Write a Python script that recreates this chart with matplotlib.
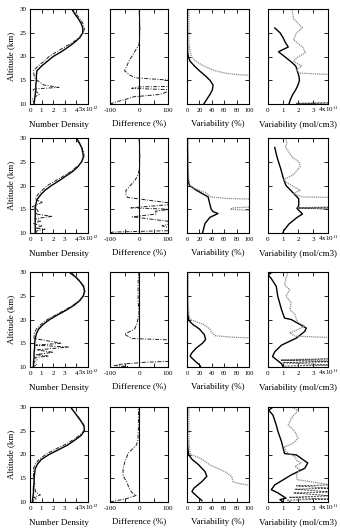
import numpy as np
import matplotlib.pyplot as plt

plt.rcParams['font.family'] = ['Liberation Serif', 'DejaVu Serif']
plt.rcParams['mathtext.fontset'] = 'stix'

# ---- data (altitude in km) ----
alt_1km = [10, 11, 12, 13, 14, 15, 16, 17, 18, 19, 20, 21, 22, 23, 24, 25, 26, 27, 28, 29, 30]

# row 1
r1_dens_solid = [0.35, 0.4, 0.45, 0.5, 0.5, 0.55, 0.55, 0.6, 1.0, 1.5, 2.0, 2.7, 3.3, 3.85, 4.3, 4.55, 4.55, 4.4, 4.15, 3.85, 3.6]
r1_dens_dash_alt = [10, 10.5, 11, 11.5, 12, 12.5, 13, 13.2, 13.5, 14, 15, 15.5, 16, 17, 18, 19, 20, 21, 22, 23, 24, 25, 26, 27, 28, 29, 30]
r1_dens_dash = [0.4, 0.3, 0.2, 0.4, 0.8, 0.6, 0.2, 0.5, 2.5, 1.2, 0.6, 0.4, 0.35, 0.3, 0.7, 1.2, 1.65, 2.3, 3.0, 3.7, 4.25, 4.6, 4.7, 4.55, 4.3, 3.95, 3.65]
r1_diff_alt = [10, 10.5, 11, 11.5, 12, 12.8, 13.0, 13.3, 13.6, 13.7, 15.0, 15.5, 16, 17, 18, 19, 20, 21, 22, 22.5, 24, 26, 28, 30]
r1_diff = [-100, -75, -45, -20, 70, 110, 110, -25, 0, 110, 110, -10, -30, -50, -42, -35, -25, -15, -5, 0, 2, 3, 2, 0]
r1_pct_solid_alt = [10, 11, 12, 13, 14, 15, 16, 17, 18, 19, 20, 21, 22, 23, 24, 25, 26]
r1_pct_solid = [27, 32, 37, 41, 42, 37, 29, 20, 12, 5, 2, 1, 1, 0.5, 0.5, 0.5, 0.5]
r1_pct_gray_alt = [16.0, 16.2, 16.5, 17, 18, 19, 20, 21, 22, 23, 24, 25, 26, 27, 28, 29, 30]
r1_pct_gray = [105, 80, 62, 45, 27, 14, 7, 5, 4, 3, 3, 3, 3, 3, 3, 3, 3]
r1_mol_solid_alt = [10, 11, 12, 13, 14, 15, 16, 17, 18, 19, 20, 21, 22, 23, 24, 25, 26]
r1_mol_solid = [1.4, 1.5, 1.65, 1.85, 2.0, 2.1, 2.05, 1.95, 1.85, 1.5, 1.1, 0.7, 1.35, 1.15, 1.0, 0.8, 0.45]
r1_mol_gray_alt = [16.2, 16.5, 17.2, 18, 19, 19.7, 20.8, 22, 23.5, 25, 26, 27, 28, 29, 30]
r1_mol_gray = [4.2, 2.1, 1.9, 2.25, 1.7, 1.9, 2.5, 2.3, 1.7, 1.9, 2.3, 2.0, 1.7, 1.65, 1.6]
r1_mol_dash_alt = [10.0, 10.15, 10.3]
r1_mol_dash = [4.2, 1.9, 4.2]

# row 2
r2_dens_solid = [0.45, 0.45, 0.45, 0.45, 0.45, 0.45, 0.5, 0.6, 0.9, 1.3, 1.85, 2.5, 3.1, 3.7, 4.15, 4.45, 4.6, 4.55, 4.45, 4.25, 4.0]
r2_dens_dash_alt = [10, 10.5, 10.8, 11, 11.5, 12, 12.5, 13, 13.5, 14, 14.5, 15, 15.5, 16, 16.5, 17, 18, 19, 20, 21, 22, 23, 24, 25, 26, 27, 28, 29, 30]
r2_dens_dash = [0.5, 0.6, 1.3, 0.5, 1.0, 0.3, 0.9, 0.4, 1.9, 0.5, 0.7, 0.6, 0.2, 0.6, 1.1, 0.45, 0.65, 1.05, 1.5, 2.2, 2.9, 3.55, 4.05, 4.45, 4.65, 4.65, 4.45, 4.2, 3.95]
r2_diff_alt = [10, 10.2, 10.5, 11, 11.5, 12, 12.4, 13.4, 14.0, 14.6, 15.0, 15.3, 16.0, 16.3, 17, 17.5, 18.1, 19, 20, 21, 22, 23, 24, 26, 28, 30]
r2_diff = [-100, -90, 110, 110, 80, 110, 110, -23, 60, 57, 110, -28, 110, 110, 20, -40, -45, -45, -30, -15, -5, 0, 2, 3, 2, 0]
r2_pct_solid_alt = [10, 10.5, 12, 13.3, 14.1, 14.5, 15, 16, 17.6, 18.2, 19, 20, 21, 22, 24, 26, 28, 30]
r2_pct_solid = [25, 26, 29, 37, 50, 42, 39, 37, 34, 26, 15, 4, 2, 1.5, 1, 1, 0.5, 0.5]
r2_pct_gray_alt = [14.7, 15.0, 15.3, 15.5, 17.1, 17.3, 17.6, 18, 18.5, 19, 19.5, 20, 21, 22, 24, 26, 28, 30]
r2_pct_gray = [110, 70, 75, 110, 110, 60, 38, 35, 30, 20, 10, 5, 3, 2.5, 2, 2, 2, 2]
r2_mol_solid_alt = [10, 10.5, 11.9, 13.3, 14.0, 15.1, 15.8, 17.2, 18.2, 20.0, 21.2, 23.5, 26, 28]
r2_mol_solid = [1.0, 1.05, 1.4, 1.95, 2.3, 1.95, 2.05, 2.05, 1.75, 1.2, 1.05, 0.85, 0.6, 0.45]
r2_mol_gray_alt = [15.1, 15.3, 15.5, 17.5, 17.6, 18.3, 19.0, 20.5, 21.2, 22.3, 24, 25, 26, 27, 28.1, 29, 30]
r2_mol_gray = [4.2, 2.0, 4.2, 4.2, 2.3, 1.7, 2.15, 1.3, 1.05, 1.7, 2.15, 2.05, 1.6, 1.4, 1.17, 1.25, 1.17]
r2_mol_dash_alt = [15.0, 15.25, 15.4]
r2_mol_dash = [4.2, 1.9, 4.2]

# row 3
r3_dens_solid = [0.3, 0.3, 0.35, 0.35, 0.4, 0.4, 0.45, 0.55, 0.75, 1.15, 1.7, 2.4, 3.15, 3.8, 4.3, 4.6, 4.7, 4.6, 4.3, 3.9, 3.35]
r3_dens_dash_alt = [10, 10.5, 11, 11.5, 12, 12.3, 12.6, 13.1, 13.6, 14.2, 14.5, 14.6, 15, 16, 17, 18, 19, 20, 21, 22, 23, 24, 25, 26, 27, 28, 29, 30]
r3_dens_dash = [0.2, 0.6, 0.3, 0.6, 0.4, 1.6, 0.5, 2.0, 0.6, 3.3, 1.2, 0.5, 2.7, 0.35, 0.35, 0.55, 0.95, 1.5, 2.25, 3.0, 3.7, 4.25, 4.6, 4.75, 4.65, 4.35, 3.95, 3.5]
r3_diff_alt = [10, 10.1, 10.3, 10.6, 11.0, 11.2, 15.7, 16.0, 16.9, 18, 19, 20, 21.4, 23, 24, 26, 28, 30]
r3_diff = [-60, -40, -85, -60, 20, 110, 110, -25, -50, -15, -8, -4, 0, -2, -3, -3, -3, 0]
r3_pct_solid_alt = [10, 10.5, 11, 12, 12.3, 13, 14, 15, 15.8, 16.8, 18, 19, 19.8, 21, 22, 24, 26, 28, 30]
r3_pct_solid = [22, 20, 15, 7, 5, 8, 15, 25, 30, 28, 20, 9, 3, 1.5, 1, 0.5, 0.5, 0.5, 0.5]
r3_pct_gray_alt = [16.1, 16.3, 16.6, 17.4, 18, 19, 20, 21, 22, 24, 26, 28, 30]
r3_pct_gray = [105, 70, 45, 39, 37, 26, 5, 3, 2.5, 2, 2, 2, 2]
r3_mol_solid_alt = [10.1, 10.7, 12.2, 13.2, 14.6, 16.1, 17.5, 18.2, 20.0, 20.3, 22.1, 24.9, 27, 28.7, 29.4, 30]
r3_mol_solid = [1.0, 0.9, 0.3, 0.45, 0.9, 1.9, 2.45, 2.55, 1.55, 1.1, 0.9, 0.65, 0.55, 0.2, 0.0, 0.3]
r3_mol_gray_alt = [11.3, 11.5, 11.8, 16.2, 16.5, 17.2, 17.6, 18.6, 19.4, 20, 21.1, 22.1, 23.5, 24.9, 26.3, 27.3, 28.7, 30]
r3_mol_gray = [4.2, 0.85, 4.2, 4.2, 1.8, 1.45, 1.8, 2.45, 2.0, 1.9, 1.8, 1.45, 1.55, 1.2, 1.45, 1.1, 1.2, 1.35]
r3_mol_dash_alt = [10.2, 10.4, 10.9, 11.1, 11.4, 11.7]
r3_mol_dash = [1.1, 4.2, 1.0, 4.2, 0.9, 4.2]

# row 4
r4_dens_solid = [0.2, 0.25, 0.3, 0.3, 0.35, 0.35, 0.4, 0.45, 0.65, 1.0, 1.65, 2.45, 3.25, 3.85, 4.4, 4.7, 4.65, 4.4, 4.1, 3.8, 3.5]
r4_dens_dash_alt = [10, 10.3, 10.7, 11, 11.5, 12, 13, 14, 15, 16, 17, 18, 19, 20, 21, 22, 23, 24, 25, 26, 27, 28, 29, 30]
r4_dens_dash = [0.3, 0.2, 0.6, 0.3, 0.9, 0.5, 0.4, 0.4, 0.3, 0.3, 0.3, 0.45, 0.8, 1.35, 2.1, 2.95, 3.65, 4.25, 4.65, 4.7, 4.45, 4.15, 3.8, 3.4]
r4_diff_alt = [10, 10.7, 11.4, 12, 12.5, 13.5, 14, 15, 15.6, 16, 17, 18.4, 19, 20.2, 21, 22, 23, 24, 26, 28, 30]
r4_diff = [-100, -43, -9, -25, -30, -38, -40, -50, -55, -55, -55, -49, -45, -38, -25, -9, -4, -3, -2, -2, -2]
r4_pct_solid_alt = [10.3, 11.2, 12.2, 12.9, 14.3, 15.4, 16.4, 17.8, 19, 19.9, 21, 22, 24, 26, 28, 30]
r4_pct_solid = [24, 16, 8, 11, 24, 32, 29, 19, 8, 3, 1.5, 1, 0.5, 0.5, 0.5, 0.5]
r4_pct_gray_alt = [13.4, 14.0, 14.3, 15.4, 16.4, 17.8, 19.2, 20, 21, 22, 24, 26, 28, 30]
r4_pct_gray = [105, 80, 74, 72, 61, 37, 22, 6, 4, 3.5, 3, 3, 3, 3]
r4_mol_solid_alt = [10, 10.5, 10.8, 11.9, 12.6, 13.6, 15.7, 17.1, 18.2, 19.9, 20.2, 22.7, 24.8, 26.2, 28.3, 29.3, 30]
r4_mol_solid = [1.0, 0.8, 1.2, 0.67, 0.22, 0.45, 1.55, 2.45, 2.65, 1.9, 1.1, 0.9, 0.67, 0.55, 0.33, 0.05, 0.33]
r4_mol_gray_alt = [13.6, 14.7, 15.7, 16.8, 17.5, 18.2, 18.8, 19.5, 20.6, 21.6, 22.3, 23.4, 24.8, 26.2, 27.6, 29.3, 30]
r4_mol_gray = [4.2, 1.95, 1.9, 2.1, 1.8, 2.2, 1.9, 1.8, 1.2, 1.1, 1.65, 2.0, 1.8, 1.35, 1.55, 2.0, 1.55]
r4_mol_dash_alt = [10.0, 10.4, 10.6, 11.0, 11.3, 11.9, 12.1, 12.7, 12.9, 13.4, 13.6]
r4_mol_dash = [1.5, 1.3, 4.2, 1.4, 4.2, 1.7, 4.2, 1.8, 4.2, 1.9, 4.2]

rows = [
    dict(ds=r1_dens_solid, dda=r1_dens_dash_alt, dd=r1_dens_dash, dfa=r1_diff_alt, df=r1_diff,
         psa=r1_pct_solid_alt, ps=r1_pct_solid, pga=r1_pct_gray_alt, pg=r1_pct_gray,
         msa=r1_mol_solid_alt, ms=r1_mol_solid, mga=r1_mol_gray_alt, mg=r1_mol_gray,
         mda=r1_mol_dash_alt, md=r1_mol_dash),
    dict(ds=r2_dens_solid, dda=r2_dens_dash_alt, dd=r2_dens_dash, dfa=r2_diff_alt, df=r2_diff,
         psa=r2_pct_solid_alt, ps=r2_pct_solid, pga=r2_pct_gray_alt, pg=r2_pct_gray,
         msa=r2_mol_solid_alt, ms=r2_mol_solid, mga=r2_mol_gray_alt, mg=r2_mol_gray,
         mda=r2_mol_dash_alt, md=r2_mol_dash),
    dict(ds=r3_dens_solid, dda=r3_dens_dash_alt, dd=r3_dens_dash, dfa=r3_diff_alt, df=r3_diff,
         psa=r3_pct_solid_alt, ps=r3_pct_solid, pga=r3_pct_gray_alt, pg=r3_pct_gray,
         msa=r3_mol_solid_alt, ms=r3_mol_solid, mga=r3_mol_gray_alt, mg=r3_mol_gray,
         mda=r3_mol_dash_alt, md=r3_mol_dash),
    dict(ds=r4_dens_solid, dda=r4_dens_dash_alt, dd=r4_dens_dash, dfa=r4_diff_alt, df=r4_diff,
         psa=r4_pct_solid_alt, ps=r4_pct_solid, pga=r4_pct_gray_alt, pg=r4_pct_gray,
         msa=r4_mol_solid_alt, ms=r4_mol_solid, mga=r4_mol_gray_alt, mg=r4_mol_gray,
         mda=r4_mol_dash_alt, md=r4_mol_dash),
]

x_labels = ['Number Density', 'Difference (%)', 'Variability (%)', 'Variability (mol/cm3)']

# ---- layout in pixels ----
W, H = 340, 531
col_left = [30, 110, 187, 268]
col_width = [58, 58, 62, 60]
row_top = [9, 138, 272, 407]
ax_h = 95

solid_kw = dict(color='black', lw=1.0)
dash_kw = dict(color='#222222', lw=0.7, linestyle=(0, (4, 1.5, 1, 1.5)))
gray_kw = dict(color='#8a8a8a', lw=0.9, linestyle=(0, (1, 0.7)))
mdash_kw = dict(color='#333333', lw=0.6, linestyle=(0, (2.5, 1.2)))


def style_axis(ax, col):
    ax.set_ylim(10, 30)
    ax.set_yticks([10, 15, 20, 25, 30])
    ax.tick_params(direction='in', length=3, width=0.6, top=True, right=True,
                   labelsize=5, pad=2.5)
    for sp in ax.spines.values():
        sp.set_linewidth(0.8)
    if col == 0:
        ax.set_xlim(0, 5)
        ax.set_xticks([0, 1, 2, 3, 4, 5])
        ax.set_xticklabels(['0', '1', '2', '3', '4', '5x10$^{12}$'])
        ax.set_ylabel('Altitude (km)', fontsize=6.5, labelpad=3)
    else:
        ax.set_yticklabels([])
    if col == 1:
        ax.set_xlim(-100, 100)
        ax.set_xticks([-100, -50, 0, 50, 100])
        ax.set_xticklabels(['-100', '', '0', '', '100'])
    if col == 2:
        ax.set_xlim(0, 100)
        ax.set_xticks([0, 20, 40, 60, 80, 100])
        ax.tick_params(axis='x', labelsize=4.5)
    if col == 3:
        ax.set_xlim(0, 4)
        ax.set_xticks([0, 1, 2, 3, 4])
        ax.set_xticklabels(['0', '1', '2', '3', '4x10$^{11}$'])
    # keep digits on one baseline even when a label has a superscript
    ax.tick_params(axis='x', pad=5.5)
    for lbl in ax.get_xticklabels():
        lbl.set_verticalalignment('baseline')
    ax.set_xlabel(x_labels[col], fontsize=6.5, labelpad=5)


fig = plt.figure(figsize=(W / 100, H / 100), dpi=100)

for r, d in enumerate(rows):
    axes = []
    for c in range(4):
        rect = [col_left[c] / W, 1 - (row_top[r] + ax_h) / H, col_width[c] / W, ax_h / H]
        axes.append(fig.add_axes(rect))
    a0, a1, a2, a3 = axes

    a0.plot(d['ds'], alt_1km, **solid_kw)
    a0.plot(d['dd'], d['dda'], **dash_kw)

    a1.axvline(0, color='black', lw=0.8)
    a1.plot(d['df'], d['dfa'], **dash_kw)

    a2.plot(d['ps'], d['psa'], **solid_kw)
    a2.plot(d['pg'], d['pga'], **gray_kw)

    a3.plot(d['ms'], d['msa'], **solid_kw)
    a3.plot(d['mg'], d['mga'], **gray_kw)
    a3.plot(d['md'], d['mda'], **mdash_kw)

    for c, ax in enumerate(axes):
        style_axis(ax, c)

fig.savefig('out.png', dpi=100)
